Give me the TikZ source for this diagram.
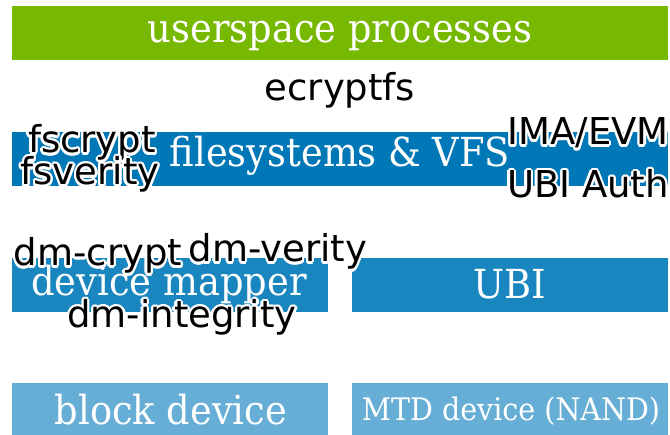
\documentclass[tikz,border=0pt]{standalone}
\usepackage{fontspec}
\setmainfont{DejaVu Sans}
\newfontfamily\slab[FakeStretch=0.92]{DejaVu Serif}
\usetikzlibrary{calc}
\definecolor{cgreen}{HTML}{76B900}
\definecolor{cfs}{HTML}{0077B6}
\definecolor{cdm}{HTML}{1A86C0}
\definecolor{cblk}{HTML}{67AED6}
\tikzset{
  layer/.style={fill=#1, draw=none, inner sep=0pt, rectangle, anchor=north west},
  boxtext/.style={text=white, font=\slab\fontsize{40}{40}\selectfont, inner sep=0pt, anchor=base},
  lbl/.style={text=black, font=\fontsize{37}{37}\selectfont, inner sep=0pt, anchor=base},
  halo/.style={lbl, text=white},
}
\newcommand{\halolabel}[3]{%
  \foreach \a in {0,22.5,...,337.5} {\node[halo] at ($(#2)+(\a:2.3pt)$) {#3};}
  \node[lbl] (#1) at (#2) {#3};}
\begin{document}
\begin{tikzpicture}[x=1pt,y=-1pt]
\useasboundingbox (0,0) rectangle (670,435);
% layers
\node[layer=cgreen, minimum width=656pt, minimum height=54pt] (us) at (12,6) {};
\node[layer=cfs, minimum width=656pt, minimum height=54pt] (fs) at (12,132) {};
\node[layer=cdm, minimum width=316pt, minimum height=54pt] (dm) at (12,258) {};
\node[layer=cdm, minimum width=316pt, minimum height=54pt] (ubi) at (352,258) {};
\node[layer=cblk, minimum width=316pt, minimum height=52pt] (blk) at (12,383) {};
\node[layer=cblk, minimum width=316pt, minimum height=52pt] (mtd) at (352,383) {};
% layer texts
\node[boxtext] (tus) at (340,43) {userspace processes};
\node[boxtext] (tfs) at (340,167) {filesystems \& VFS};
\node[boxtext] (tdm) at (169,296) {device mapper};
\node[boxtext] (tubi) at (510,299) {UBI};
\node[boxtext] (tblk) at (171,425) {block device};
\node[boxtext, font=\slab\fontsize{31}{31}\selectfont] (tmtd) at (511,421) {MTD device (NAND)};
% labels
\halolabel{ecr}{340,101}{ecryptfs}
\halolabel{fscr}{92,153}{fscrypt}
\halolabel{fsv}{90,185}{fsverity}
\halolabel{ima}{588,145}{IMA/EVM}
\halolabel{ubia}{588,198}{UBI Auth}
\halolabel{dmc}{98,266}{dm-crypt}
\halolabel{dmv}{278,262}{dm-verity}
\halolabel{dmi}{182,328}{dm-integrity}
\end{tikzpicture}
\end{document}
